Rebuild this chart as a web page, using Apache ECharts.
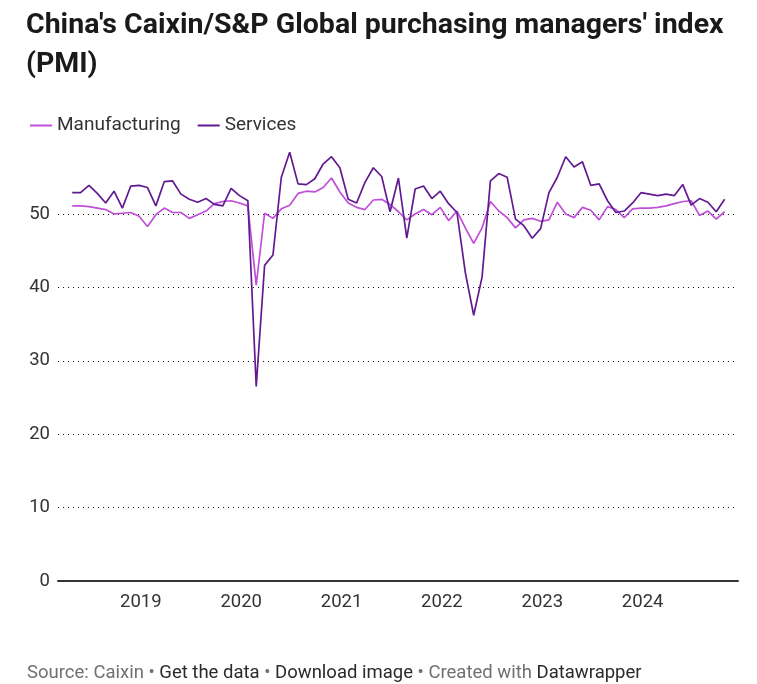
<!DOCTYPE html>
<html>
<head>
<meta charset="utf-8">
<script src="https://cdn.jsdelivr.net/npm/echarts@6/dist/echarts.min.js"></script>
<style>
html,body{margin:0;padding:0;background:#fff;}
#chart{width:757px;height:684px;}
</style>
</head>
<body>
<div id="chart"></div>
<script>
// Months from Apr 2018 to Oct 2024
const months = [
 '2018-04','2018-05','2018-06','2018-07','2018-08','2018-09','2018-10','2018-11','2018-12',
 '2019-01','2019-02','2019-03','2019-04','2019-05','2019-06','2019-07','2019-08','2019-09','2019-10','2019-11','2019-12',
 '2020-01','2020-02','2020-03','2020-04','2020-05','2020-06','2020-07','2020-08','2020-09','2020-10','2020-11','2020-12',
 '2021-01','2021-02','2021-03','2021-04','2021-05','2021-06','2021-07','2021-08','2021-09','2021-10','2021-11','2021-12',
 '2022-01','2022-02','2022-03','2022-04','2022-05','2022-06','2022-07','2022-08','2022-09','2022-10','2022-11','2022-12',
 '2023-01','2023-02','2023-03','2023-04','2023-05','2023-06','2023-07','2023-08','2023-09','2023-10','2023-11','2023-12',
 '2024-01','2024-02','2024-03','2024-04','2024-05','2024-06','2024-07','2024-08','2024-09','2024-10'
];
const manufacturing = [
 51.1,51.1,51.0,50.8,50.6,50.0,50.1,50.2,49.7,
 48.3,49.9,50.8,50.2,50.2,49.4,49.9,50.4,51.4,51.7,51.8,51.5,
 51.1,40.3,50.1,49.4,50.7,51.2,52.8,53.1,53.0,53.6,54.9,53.0,
 51.5,50.9,50.6,51.9,52.0,51.3,50.3,49.2,50.0,50.6,49.9,50.9,
 49.1,50.4,48.1,46.0,48.1,51.7,50.4,49.5,48.1,49.2,49.4,49.0,
 49.2,51.6,50.0,49.5,50.9,50.5,49.2,51.0,50.6,49.5,50.7,50.8,
 50.8,50.9,51.1,51.4,51.7,51.8,49.8,50.4,49.3,50.3
];
const services = [
 52.9,52.9,53.9,52.8,51.5,53.1,50.8,53.8,53.9,
 53.6,51.1,54.4,54.5,52.7,52.0,51.6,52.1,51.3,51.1,53.5,52.5,
 51.8,26.5,43.0,44.4,55.0,58.4,54.1,54.0,54.8,56.8,57.8,56.3,
 52.0,51.5,54.3,56.3,55.1,50.3,54.9,46.7,53.4,53.8,52.1,53.1,
 51.4,50.2,42.0,36.2,41.4,54.5,55.5,55.0,49.3,48.4,46.7,48.0,
 52.9,55.0,57.8,56.4,57.1,53.9,54.1,51.8,50.2,50.4,51.5,52.9,
 52.7,52.5,52.7,52.5,54.0,51.2,52.1,51.6,50.3,52.0
];
const yearLabels = ['2019','2020','2021','2022','2023','2024'];
const yTicks = [0,10,20,30,40,50];

const FONT = 'Roboto, "Noto Sans", sans-serif';
const yearPos = yearLabels.map(y => months.indexOf(y + '-01') - 0.8);
const mData = manufacturing.map((v,i)=>[i,v]);
const sData = services.map((v,i)=>[i,v]);

const chart = echarts.init(document.getElementById('chart'), null, {renderer:'canvas'});
chart.setOption({
  animation:false,
  backgroundColor:'#fff',
  textStyle:{fontFamily:FONT},
  title:[{
    text:"China's Caixin/S&P Global purchasing managers' index\n(PMI)",
    left:21, top:1,
    textStyle:{fontFamily:FONT,fontSize:28.5,fontWeight:'bold',color:'#1a1a1a',lineHeight:39}
  },{
    text:'{g|Source: Caixin • }{d|Get the data}{g| • }{d|Download image}{g| • Created with }{d|Datawrapper}',
    left:22, top:659,
    textStyle:{
      fontWeight:'normal',
      rich:{
        g:{fontFamily:FONT,fontSize:18.5,fontWeight:'normal',color:'#707070'},
        d:{fontFamily:FONT,fontSize:18.5,fontWeight:'normal',color:'#2a2a2a'}
      }
    }
  }],
  legend:{
    left:30, top:116, padding:0,
    itemWidth:22, itemHeight:2, itemGap:17,
    icon:'rect',
    textStyle:{fontFamily:FONT,fontSize:19,color:'#333'},
    data:['Manufacturing','Services']
  },
  grid:{left:58,right:19,top:152.3,bottom:103,containLabel:false},
  xAxis:{
    type:'value',
    min:-1.7, max:79.6,
    axisLine:{show:true,lineStyle:{color:'#333',width:2}},
    axisTick:{show:false},
    splitLine:{show:false},
    axisLabel:{
      customValues:yearPos,
      formatter:function(v){
        const i = yearPos.findIndex(p=>Math.abs(p-v)<0.01);
        return i>=0 ? yearLabels[i] : '';
      },
      fontFamily:FONT,fontSize:18.5,color:'#333',margin:12
    }
  },
  yAxis:{
    type:'value',
    min:0, max:58.4,
    interval:10,
    axisLine:{show:false},
    axisTick:{show:false},
    axisLabel:{
      customValues:yTicks,
      fontFamily:FONT,fontSize:18.5,color:'#333',margin:8
    },
    splitLine:{show:true,showMaxLine:false,lineStyle:{color:'#111',width:1,type:[1,4]}}
  },
  series:[{
    name:'Manufacturing',
    type:'line',
    data:mData,
    showSymbol:false,
    symbol:'none',
    color:'#c04fd8',
    lineStyle:{width:1.7,color:'#c04fd8'},
    z:2
  },{
    name:'Services',
    type:'line',
    data:sData,
    showSymbol:false,
    symbol:'none',
    color:'#621a90',
    lineStyle:{width:1.7,color:'#621a90'},
    z:3
  }]
});
</script>
</body>
</html>
